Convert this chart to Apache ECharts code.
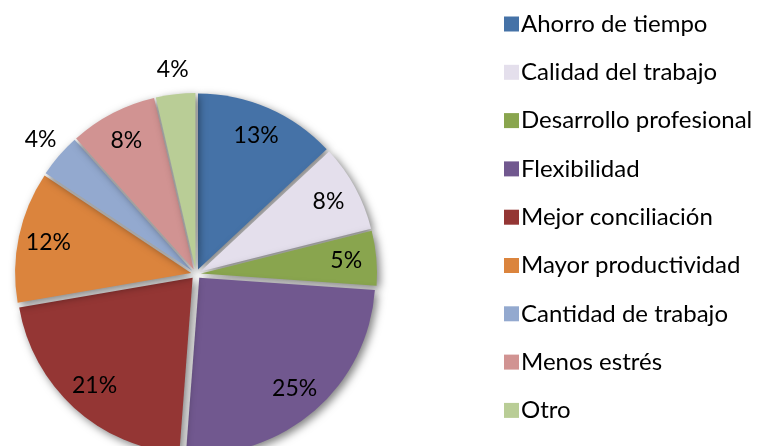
<!DOCTYPE html>
<html>
<head>
<meta charset="utf-8">
<script src="https://cdn.jsdelivr.net/npm/echarts@6/dist/echarts.min.js"></script>
<style>
  html, body { margin: 0; padding: 0; background: #fff; }
  #chart { width: 762px; height: 446px; }
</style>
</head>
<body>
<div id="chart"></div>
<script>
// categorias y porcentajes
var categorias = ['Ahorro de tiempo', 'Calidad del trabajo', 'Desarrollo profesional', 'Flexibilidad',
  'Mejor conciliación', 'Mayor productividad', 'Cantidad de trabajo', 'Menos estrés', 'Otro'];
var valores = [13, 8, 5, 25, 21, 12, 4, 8, 3.6];
var etiquetas = ['13%', '8%', '5%', '25%', '21%', '12%', '4%', '8%', '4%'];
var fuera = [false, false, false, false, false, false, true, false, true]; // etiqueta fuera del sector
var colores = ['#4572A7', '#E4DFEC', '#89A54E', '#71588F', '#943634', '#DB843D', '#93A9CF', '#D19392', '#B9CD96'];

var chart = echarts.init(document.getElementById('chart'), null, { renderer: 'canvas' });

var fuente = 'Lato';
var centro = [196, 274];
var radio = 176;

var datosPie = categorias.map(function (c, i) {
  return { name: c, value: valores[i], selected: true, itemStyle: { color: colores[i] } };
});

// capas transparentes: solo sirven para situar las etiquetas
function capaEtiquetas(r, mostrar) {
  return {
    type: 'pie',
    center: centro,
    radius: [0, r],
    startAngle: 90,
    clockwise: true,
    silent: true,
    avoidLabelOverlap: false,
    itemStyle: { color: 'rgba(0,0,0,0)' },
    label: { position: 'inside', fontFamily: fuente, fontSize: 23, color: '#000' },
    labelLine: { show: false },
    emphasis: { disabled: true },
    data: categorias.map(function (c, i) {
      return { name: c, value: valores[i], label: { show: mostrar(i), formatter: etiquetas[i] } };
    })
  };
}

var option = {
  animation: false,
  legend: {
    orient: 'vertical',
    left: 499,
    top: 7,
    itemWidth: 15,
    itemHeight: 15,
    itemGap: 24.3,
    icon: 'rect',
    data: categorias,
    selectedMode: false,
    textStyle: { fontFamily: fuente, fontSize: 24, color: '#000', lineHeight: 24, padding: [0, 0, 0, -3] }
  },
  series: [{
    type: 'pie',
    center: centro,
    radius: [0, radio],
    startAngle: 90,
    clockwise: true,
    selectedMode: 'multiple',
    selectedOffset: 5,
    itemStyle: {
      shadowBlur: 8,
      shadowColor: 'rgba(0,0,0,0.5)',
      shadowOffsetX: 3,
      shadowOffsetY: 3
    },
    label: { show: false },
    labelLine: { show: false },
    emphasis: { disabled: true },
    data: datosPie
  },
  capaEtiquetas(radio * 1.68, function (i) { return !fuera[i]; }),
  capaEtiquetas(radio * 2.3, function (i) { return fuera[i]; })
  ]
};

chart.setOption(option);
</script>
</body>
</html>
